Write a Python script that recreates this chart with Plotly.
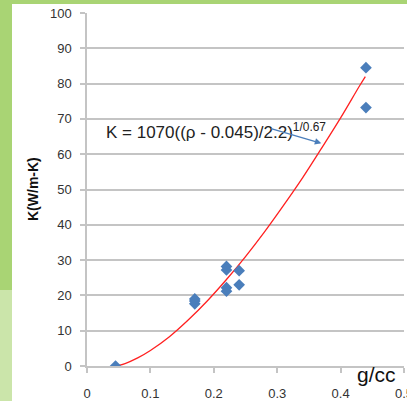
import plotly.graph_objects as go

# measured points (density g/cc, conductivity W/m-K)
rho = [0.045, 0.17, 0.17, 0.17, 0.22, 0.22, 0.22, 0.22, 0.24, 0.24, 0.44, 0.44]
k = [0.0, 17.6, 18.4, 19.0, 28.2, 27.2, 22.2, 21.2, 27.0, 23.0, 84.5, 73.2]

# fit curve values
fit_rho = [0.045, 0.06, 0.08, 0.10, 0.13, 0.16, 0.19, 0.22, 0.25, 0.28, 0.31, 0.34, 0.37, 0.40, 0.43, 0.439]
fit_k = [0.0, 0.7, 2.3, 4.4, 8.3, 13.1, 18.5, 24.5, 31.0, 38.0, 45.5, 53.3, 61.7, 70.3, 79.4, 82.0]

x_ticks = [0, 0.1, 0.2, 0.3, 0.4, 0.5]
x_tick_labels = ["0", "0.1", "0.2", "0.3", "0.4", "0.5"]
y_ticks = [0, 10, 20, 30, 40, 50, 60, 70, 80, 90, 100]
y_tick_labels = [str(v) for v in y_ticks]

W, H = 407, 401
L, R, T, B = 87, 3, 13, 35
pw, ph = W - L - R, H - T - B

def px_x(p):
    return (p - L) / pw

def px_y(p):
    return (H - B - p) / ph

fig = go.Figure()
fig.add_trace(go.Scatter(x=fit_rho, y=fit_k, mode="lines", line_shape="spline",
                         line=dict(color="#ff2020", width=1.3), hoverinfo="skip"))
fig.add_trace(go.Scatter(x=rho, y=k, mode="markers",
                         marker=dict(symbol="diamond", size=9, color="#4a7ebb")))

grid = "#c4c4c4"
fig.update_layout(
    width=W, height=H, showlegend=False,
    margin=dict(l=L, r=R, t=T, b=B, pad=0, autoexpand=False),
    paper_bgcolor="#a9d474", plot_bgcolor="rgba(0,0,0,0)",
    font=dict(family="Liberation Sans, Arial, sans-serif", color="#333333", size=13),
    xaxis=dict(range=[0, 0.5], tickvals=x_ticks, ticktext=x_tick_labels, automargin=False,
               showgrid=False, zeroline=False, showline=True, linecolor=grid, linewidth=1.5,
               ticks="outside", ticklen=5, tickcolor=grid, tickwidth=1.5,
               ticklabeloverflow="allow",
               ticklabelstandoff=10, tickfont=dict(size=13, color="#333333")),
    yaxis=dict(range=[0, 100], tickvals=y_ticks, ticktext=y_tick_labels, automargin=False,
               showgrid=True, gridcolor=grid, gridwidth=1.5, zeroline=False,
               showline=True, linecolor=grid, linewidth=1.5,
               ticks="outside", ticklen=5, tickcolor=grid, tickwidth=1.5,
               ticklabelstandoff=6, tickfont=dict(size=13, color="#333333")),
    shapes=[
        dict(type="rect", xref="paper", yref="paper", layer="below",
             x0=px_x(0), x1=px_x(12), y0=px_y(290), y1=px_y(H + 5),
             fillcolor="#cbe5aa", line=dict(width=0)),
        dict(type="rect", xref="paper", yref="paper", layer="below",
             x0=px_x(12), x1=px_x(W + 5), y0=px_y(H + 5), y1=px_y(4),
             fillcolor="white", line=dict(width=0)),
    ],
    annotations=[
        dict(text="K = 1070((ρ - 0.045)/2.2)<sup>1/0.67</sup>", xref="paper", yref="paper",
             x=px_x(104), y=px_y(131), xanchor="left", yanchor="middle", showarrow=False,
             font=dict(size=17, color="#222222")),
        dict(x=0.3696, y=63.1, ax=0.288, ay=67.4, xref="x", yref="y", axref="x", ayref="y",
             text="", showarrow=True, arrowhead=2, arrowsize=1, arrowwidth=1.3,
             arrowcolor="#4a7ebb"),
        dict(text="<b>K(W/m-K)</b>", xref="paper", yref="paper", x=px_x(33), y=px_y(189),
             textangle=-90, showarrow=False, xanchor="center", yanchor="middle",
             font=dict(size=14, color="#111111")),
        dict(text="g/cc", xref="paper", yref="paper", x=px_x(376), y=px_y(374),
             showarrow=False, xanchor="center", yanchor="middle",
             font=dict(size=21, color="#111111")),
    ],
)

fig.write_html("out.html")
